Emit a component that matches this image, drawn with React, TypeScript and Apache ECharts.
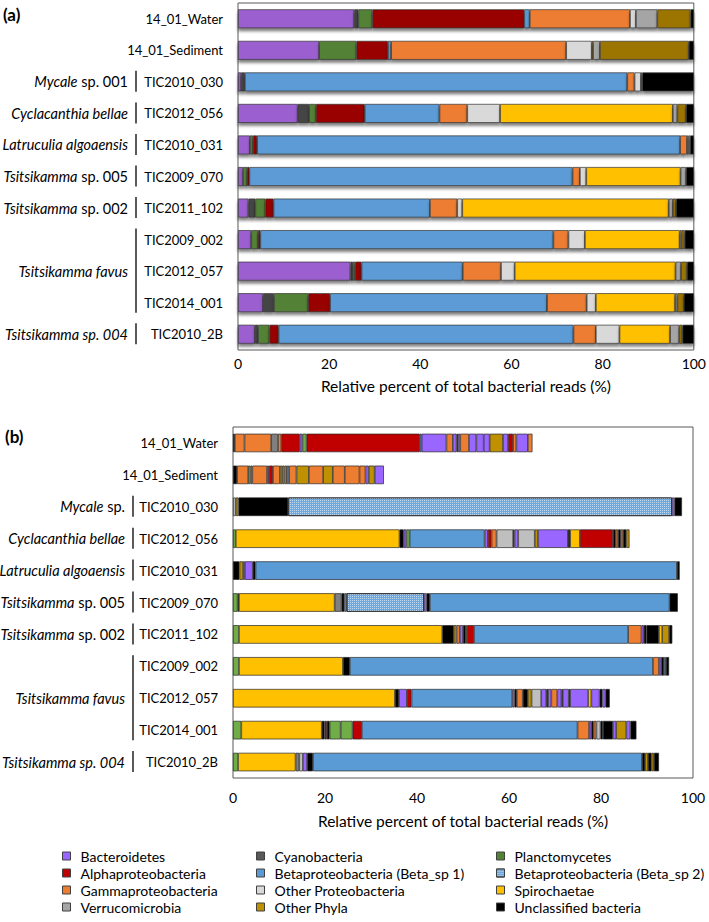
import React, { useEffect, useRef } from 'react';
import * as echarts from 'echarts';

const FONT = 'Lato, "Noto Sans", sans-serif';

// ---------- categories ----------
const samples = [
  '14_01_Water', '14_01_Sediment', 'TIC2010_030', 'TIC2012_056', 'TIC2010_031',
  'TIC2009_070', 'TIC2011_102', 'TIC2009_002', 'TIC2012_057', 'TIC2014_001', 'TIC2010_2B',
];

const phylumNames: Record<string, string> = {
  Bac: 'Bacteroidetes', Alp: 'Alphaproteobacteria', Gam: 'Gammaproteobacteria', Ver: 'Verrucomicrobia',
  Cya: 'Cyanobacteria', Be1: 'Betaproteobacteria (Beta_sp 1)', OPr: 'Other Proteobacteria', OPh: 'Other Phyla',
  Pla: 'Planctomycetes', Be2: 'Betaproteobacteria (Beta_sp 2)', Spi: 'Spirochaetae', Unc: 'Unclassified bacteria',
};

// ---------- panel (a): phylum-level percentages ----------
const aBacteroidetes = [25.5, 17.8, 0.7, 13.1, 2.6, 1.1, 2.3, 2.9, 24.7, 5.5, 3.7];
const aCyanobacteria = [0.9, 0, 0.8, 2.5, 0, 0, 1.5, 0, 0.5, 2.4, 0.7];
const aPlanctomycetes = [3.1, 8.2, 0, 1.5, 0.7, 0.9, 2.2, 1.5, 0.5, 7.5, 2.5];
const aAlpha = [33.3, 6.9, 0, 10.7, 0.9, 0.5, 1.8, 0.5, 1.4, 4.8, 2.0];
const aBeta1 = [1.2, 0.7, 83.9, 16.4, 92.8, 70.9, 34.3, 64.3, 22.2, 47.6, 64.7];
const aBeta2 = [0, 0, 0, 0, 0, 0, 0, 0, 0, 0, 0];
const aGamma = [22.0, 38.4, 1.6, 6.1, 1.5, 1.6, 6.0, 3.3, 8.4, 8.7, 4.9];
const aOtherProteo = [1.3, 5.6, 1.4, 7.2, 0.3, 1.4, 1.1, 3.6, 3.0, 2.0, 5.2];
const aSpirochaetae = [0, 0.3, 0, 37.9, 0, 20.7, 45.3, 20.8, 35.3, 17.4, 11.1];
const aVerruco = [4.7, 1.5, 0.3, 1.0, 0.4, 1.2, 0.9, 0.4, 1.2, 0.5, 2.0];
const aOtherPhyla = [7.3, 19.5, 0, 1.9, 0, 0, 0.7, 0.7, 1.3, 1.4, 0.7];
const aUnclassified = [0.7, 1.1, 11.3, 1.7, 0.8, 1.7, 3.9, 2.0, 1.5, 2.2, 2.5];

// ---------- panel (b): OTU-level segments (phylum, %) ----------
type Seg = [string, number];
const bWater: Seg[] = [
  ['Unc', 0.4], ['Gam', 2.1], ['Gam', 5.8], ['Ver', 1.5], ['Gam', 0.7], ['Alp', 4.0], ['Bac', 0.6], ['Pla', 0.9],
  ['Alp', 24.6], ['Be1', 0.4], ['Bac', 5.4], ['Gam', 1.4], ['Bac', 0.8], ['Unc', 0.3], ['Bac', 0.5], ['Gam', 1.9],
  ['Bac', 1.6], ['Bac', 1.6], ['Bac', 1.3], ['OPh', 2.9], ['Bac', 1.1], ['Alp', 1.1], ['Gam', 0.7], ['Bac', 2.5], ['Gam', 1.0],
];
const bSediment: Seg[] = [
  ['Unc', 0.9], ['Gam', 2.4], ['Pla', 0.5], ['Gam', 0.4], ['Gam', 3.2], ['Bac', 0.4], ['Alp', 0.9], ['Gam', 1.5],
  ['OPh', 0.5], ['OPh', 0.5], ['Gam', 0.5], ['Be1', 0.5], ['Gam', 1.6], ['OPh', 2.7], ['Gam', 3.1], ['OPh', 2.1],
  ['Gam', 2.6], ['Gam', 3.2], ['Gam', 1.3], ['Bac', 0.7], ['OPh', 1.3], ['Bac', 2.0],
];
const b030: Seg[] = [['OPr', 0.6], ['OPh', 0.6], ['Unc', 10.8], ['Be2', 83.4], ['Bac', 0.6], ['Unc', 1.6]];
const b056: Seg[] = [
  ['Pla', 0.6], ['Spi', 35.6], ['Unc', 0.9], ['Bac', 0.6], ['Pla', 0.7], ['Be1', 16.3], ['Bac', 0.7], ['Alp', 0.8],
  ['Gam', 1.1], ['OPr', 3.6], ['Unc', 0.3], ['Bac', 0.8], ['OPr', 3.6], ['OPh', 0.7], ['Bac', 6.5], ['Unc', 0.5],
  ['Spi', 2.1], ['Alp', 7.2], ['Unc', 0.6], ['Gam', 0.5], ['Unc', 0.6], ['Gam', 0.5], ['Unc', 0.7], ['OPh', 0.7],
];
const b031: Seg[] = [['Unc', 1.4], ['OPh', 0.8], ['Bac', 0.4], ['Bac', 1.7], ['Unc', 0.6], ['Be1', 91.6], ['Unc', 0.6]];
const b070: Seg[] = [
  ['Pla', 1.0], ['Unc', 0.3], ['Spi', 20.8], ['Ver', 1.5], ['Unc', 0.6], ['Be1', 0.5], ['Be2', 16.8], ['Bac', 0.6],
  ['Unc', 0.7], ['Be1', 52.1], ['Unc', 1.8],
];
const b102: Seg[] = [
  ['Pla', 1.3], ['Spi', 44.2], ['Unc', 2.5], ['OPh', 0.6], ['Gam', 0.7], ['Bac', 0.7], ['Unc', 0.6], ['Pla', 0.3],
  ['Alp', 1.5], ['Be1', 33.5], ['Gam', 2.9], ['Bac', 0.5], ['Unc', 0.6], ['Unc', 2.7], ['Spi', 0.7], ['OPh', 1.5], ['Unc', 0.7],
];
const b002: Seg[] = [
  ['Pla', 1.3], ['Spi', 22.6], ['Unc', 1.5], ['Be1', 65.9], ['Gam', 1.3], ['Bac', 0.5], ['Unc', 0.6], ['Be1', 0.4], ['Unc', 0.7],
];
const b057: Seg[] = [
  ['Spi', 35.2], ['Unc', 0.9], ['Bac', 1.7], ['Alp', 1.0], ['Be1', 21.9], ['Bac', 0.5], ['Unc', 0.5], ['Gam', 1.3],
  ['Unc', 1.1], ['OPh', 0.8], ['OPr', 2.1], ['Bac', 1.1], ['Unc', 0.4], ['Bac', 0.7], ['Gam', 1.3], ['Bac', 0.9],
  ['Unc', 0.3], ['Bac', 1.3], ['Unc', 0.3], ['Bac', 3.9], ['Spi', 0.7], ['Bac', 1.8], ['Unc', 0.6], ['Bac', 0.7], ['Unc', 0.9],
];
const b001: Seg[] = [
  ['Pla', 1.8], ['Spi', 17.5], ['Unc', 0.6], ['Alp', 0.5], ['Unc', 0.6], ['Pla', 2.4], ['Pla', 2.6], ['Alp', 2.0],
  ['Be1', 46.9], ['Gam', 2.5], ['Bac', 0.5], ['Unc', 0.5], ['Gam', 0.6], ['OPr', 0.9], ['Unc', 0.5], ['Unc', 2.2],
  ['Bac', 0.7], ['OPh', 2.2], ['Bac', 0.9], ['Unc', 1.3],
];
const b2B: Seg[] = [
  ['Pla', 1.1], ['Spi', 12.5], ['Ver', 0.8], ['OPr', 0.8], ['Bac', 0.9], ['Unc', 1.3], ['Be1', 71.5],
  ['Unc', 0.7], ['OPh', 0.6], ['Unc', 0.8], ['OPh', 0.5], ['Unc', 1.1],
];
const bRows: Seg[][] = [bWater, bSediment, b030, b056, b031, b070, b102, b002, b057, b001, b2B];

// ---------- host species labels ----------
const groupsA = [
  { label: '{i|Mycale}{n| sp. 001}', rows: ['TIC2010_030'] },
  { label: '{i|Cyclacanthia bellae}', rows: ['TIC2012_056'] },
  { label: '{i|Latruculia algoaensis}', rows: ['TIC2010_031'] },
  { label: '{i|Tsitsikamma}{n| sp. 005}', rows: ['TIC2009_070'] },
  { label: '{i|Tsitsikamma}{n| sp. 002}', rows: ['TIC2011_102'] },
  { label: '{i|Tsitsikamma favus}', rows: ['TIC2009_002', 'TIC2012_057', 'TIC2014_001'] },
  { label: '{i|Tsitsikamma sp. 004}', rows: ['TIC2010_2B'] },
];
const groupsB = [
  { label: '{i|Mycale}{n| sp.}', rows: ['TIC2010_030'] },
  { label: '{i|Cyclacanthia bellae}', rows: ['TIC2012_056'] },
  { label: '{i|Latruculia algoaensis}', rows: ['TIC2010_031'] },
  { label: '{i|Tsitsikamma}{n| sp. 005}', rows: ['TIC2009_070'] },
  { label: '{i|Tsitsikamma}{n| sp. 002}', rows: ['TIC2011_102'] },
  { label: '{i|Tsitsikamma favus}', rows: ['TIC2009_002', 'TIC2012_057', 'TIC2014_001'] },
  { label: '{i|Tsitsikamma sp. 004}', rows: ['TIC2010_2B'] },
];

const legendCol1 = ['Bac', 'Alp', 'Gam', 'Ver'];
const legendCol2 = ['Cya', 'Be1', 'OPr', 'OPh'];
const legendCol3 = ['Pla', 'Be2', 'Spi', 'Unc'];

// ---------- styles ----------
const colorsA: Record<string, string> = {
  Bac: '#9B5FCF', Cya: '#454545', Pla: '#538135', Alp: '#990000', Be1: '#5B9BD5', Be2: '#6FA8DC',
  Gam: '#ED7D31', OPr: '#D9D9D9', Spi: '#FFC000', Ver: '#A5A5A5', OPh: '#9C7400', Unc: '#000000',
};
const colorsB: Record<string, string> = {
  Bac: '#9966FF', Cya: '#404040', Pla: '#70AD47', Alp: '#C00000', Be1: '#5B9BD5', Be2: '#6FA8DC',
  Gam: '#ED7D31', OPr: '#BFBFBF', Spi: '#FFC000', Ver: '#808080', OPh: '#BF9000', Unc: '#000000',
};
const colorsLegend: Record<string, string> = {
  Bac: '#9966FF', Alp: '#C00000', Gam: '#ED7D31', Ver: '#A6A6A6', Cya: '#595959', Be1: '#5B9BD5',
  OPr: '#D9D9D9', OPh: '#BF9000', Pla: '#548235', Be2: '#6FA8DC', Spi: '#FFC000', Unc: '#000000',
};
const beta2Decal = {
  symbol: 'rect', symbolSize: 1, dashArrayX: [1, 1], dashArrayY: [1, 1],
  color: 'rgba(255,255,255,0.55)', rotation: 0,
};

const aSeriesDef: [string, number[]][] = [
  ['Bac', aBacteroidetes], ['Cya', aCyanobacteria], ['Pla', aPlanctomycetes], ['Alp', aAlpha],
  ['Be1', aBeta1], ['Be2', aBeta2], ['Gam', aGamma], ['OPr', aOtherProteo], ['Spi', aSpirochaetae],
  ['Ver', aVerruco], ['OPh', aOtherPhyla], ['Unc', aUnclassified],
];

function buildOption() {
  const seriesA = aSeriesDef.map(([key, vals]) => ({
    name: phylumNames[key],
    type: 'bar',
    stack: 'a',
    xAxisIndex: 0,
    yAxisIndex: 0,
    barWidth: '60%',
    data: vals.map((v) => (v === 0 ? '-' : v)),
    itemStyle: {
      color: colorsA[key],
      borderColor: '#333',
      borderWidth: 0.7,
      shadowColor: 'rgba(0,0,0,0.5)',
      shadowBlur: 3,
      shadowOffsetY: 3,
      ...(key === 'Be2' ? { decal: beta2Decal } : {}),
    },
  }));

  const maxSeg = Math.max(...bRows.map((r) => r.length));
  const seriesB = [] as any[];
  for (let k = 0; k < maxSeg; k++) {
    seriesB.push({
      name: 'otu-' + k,
      type: 'bar',
      stack: 'b',
      xAxisIndex: 1,
      yAxisIndex: 1,
      barWidth: '58%',
      data: bRows.map((row) => {
        const s = row[k];
        if (!s) return '-';
        return {
          value: s[1],
          itemStyle: {
            color: colorsB[s[0]],
            ...(s[0] === 'Be2' ? { decal: beta2Decal } : {}),
          },
        };
      }),
      itemStyle: { borderColor: '#262626', borderWidth: 0.7 },
    });
  }

  const legendOf = (keys: string[], left: number) => ({
    orient: 'vertical',
    left,
    top: 849,
    padding: 0,
    itemWidth: 8,
    itemHeight: 8,
    itemGap: 3,
    icon: 'rect',
    selectedMode: false,
    textStyle: { fontSize: 14, fontFamily: FONT, color: '#000', padding: [0, 0, 0, 5] },
    data: keys.map((k) => ({
      name: phylumNames[k],
      itemStyle: {
        color: colorsLegend[k],
        borderColor: '#404040',
        borderWidth: 1,
        shadowBlur: 0,
        shadowOffsetY: 0,
        ...(k === 'Be2' ? { decal: beta2Decal } : {}),
      },
    })),
  });

  const xAxisCommon = {
    type: 'value',
    min: 0,
    max: 100,
    interval: 20,
    splitLine: { show: false },
    axisLine: { show: false },
    axisTick: { show: false },
    name: 'Relative percent of total bacterial reads (%)',
    nameLocation: 'middle',
    nameTextStyle: { fontSize: 15.5, fontFamily: FONT, color: '#000' },
  };
  const yAxisCommon = {
    type: 'category',
    data: samples,
    inverse: true,
    axisLine: { show: false },
    axisTick: { show: false },
    splitLine: { show: false },
  };

  return {
    animation: false,
    backgroundColor: '#fff',
    textStyle: { fontFamily: FONT },
    grid: [
      { left: 238, right: 12, top: 3, height: 347, show: true, borderColor: '#595959', borderWidth: 1 },
      { left: 233, right: 16, top: 427, height: 351, show: true, borderColor: '#595959', borderWidth: 1 },
    ],
    xAxis: [
      {
        ...xAxisCommon,
        gridIndex: 0,
        nameGap: 28,
        axisLabel: { margin: 6, fontSize: 14, fontFamily: FONT, color: '#000' },
      },
      {
        ...xAxisCommon,
        gridIndex: 1,
        nameGap: 35,
        axisLabel: { margin: 12, fontSize: 14, fontFamily: FONT, color: '#000' },
      },
    ],
    yAxis: [
      { ...yAxisCommon, gridIndex: 0, axisLabel: { margin: 15, fontSize: 13, fontFamily: FONT, color: '#000' } },
      { ...yAxisCommon, gridIndex: 1, axisLabel: { margin: 15, fontSize: 13, fontFamily: FONT, color: '#000' } },
    ],
    legend: [legendOf(legendCol1, 62), legendOf(legendCol2, 256), legendOf(legendCol3, 496)],
    series: [...seriesA, ...seriesB],
  };
}

export default function App() {
  const ref = useRef<HTMLDivElement>(null);
  useEffect(() => {
    if (!ref.current) return;
    const chart = echarts.init(ref.current, null, { renderer: 'svg' });
    chart.setOption(buildOption() as any);

    const gfx: any[] = [];
    const rich = {
      i: { fontStyle: 'italic', fontSize: 14.5, fontFamily: FONT, fill: '#000' },
      n: { fontSize: 14.5, fontFamily: FONT, fill: '#000' },
    };
    const addGroups = (groups: { label: string; rows: string[] }[], axisIdx: number, sepX: number) => {
      groups.forEach((gr) => {
        const ys = gr.rows.map((r) => chart.convertToPixel({ yAxisIndex: axisIdx } as any, r) as number);
        const y0 = Math.min(...ys);
        const y1 = Math.max(...ys);
        gfx.push({
          type: 'line',
          silent: true,
          shape: { x1: sepX, y1: y0 - 11, x2: sepX, y2: y1 + 10 },
          style: { stroke: '#000', lineWidth: 1.3 },
        });
        gfx.push({
          type: 'text',
          silent: true,
          x: sepX - 8,
          y: (y0 + y1) / 2,
          style: {
            text: gr.label,
            rich,
            align: 'right',
            verticalAlign: 'middle',
            textAlign: 'right',
            textVerticalAlign: 'middle',
            fontSize: 14.5,
            fontFamily: FONT,
            fill: '#000',
          },
        });
      });
    };
    addGroups(groupsA, 0, 136);
    addGroups(groupsB, 1, 133);
    gfx.push({
      type: 'text', silent: true, x: 3, y: 14,
      style: { text: '(a)', fontSize: 17, fontWeight: 'bold', fontFamily: FONT, fill: '#000', verticalAlign: 'middle', textVerticalAlign: 'middle' },
    });
    gfx.push({
      type: 'text', silent: true, x: 5, y: 436,
      style: { text: '(b)', fontSize: 17, fontWeight: 'bold', fontFamily: FONT, fill: '#000', verticalAlign: 'middle', textVerticalAlign: 'middle' },
    });
    chart.setOption({ graphic: gfx });
    return () => chart.dispose();
  }, []);
  return (
    <div
      ref={ref}
      style={{ position: 'absolute', left: 0, top: 0, width: 709, height: 922, background: '#fff' }}
    />
  );
}
